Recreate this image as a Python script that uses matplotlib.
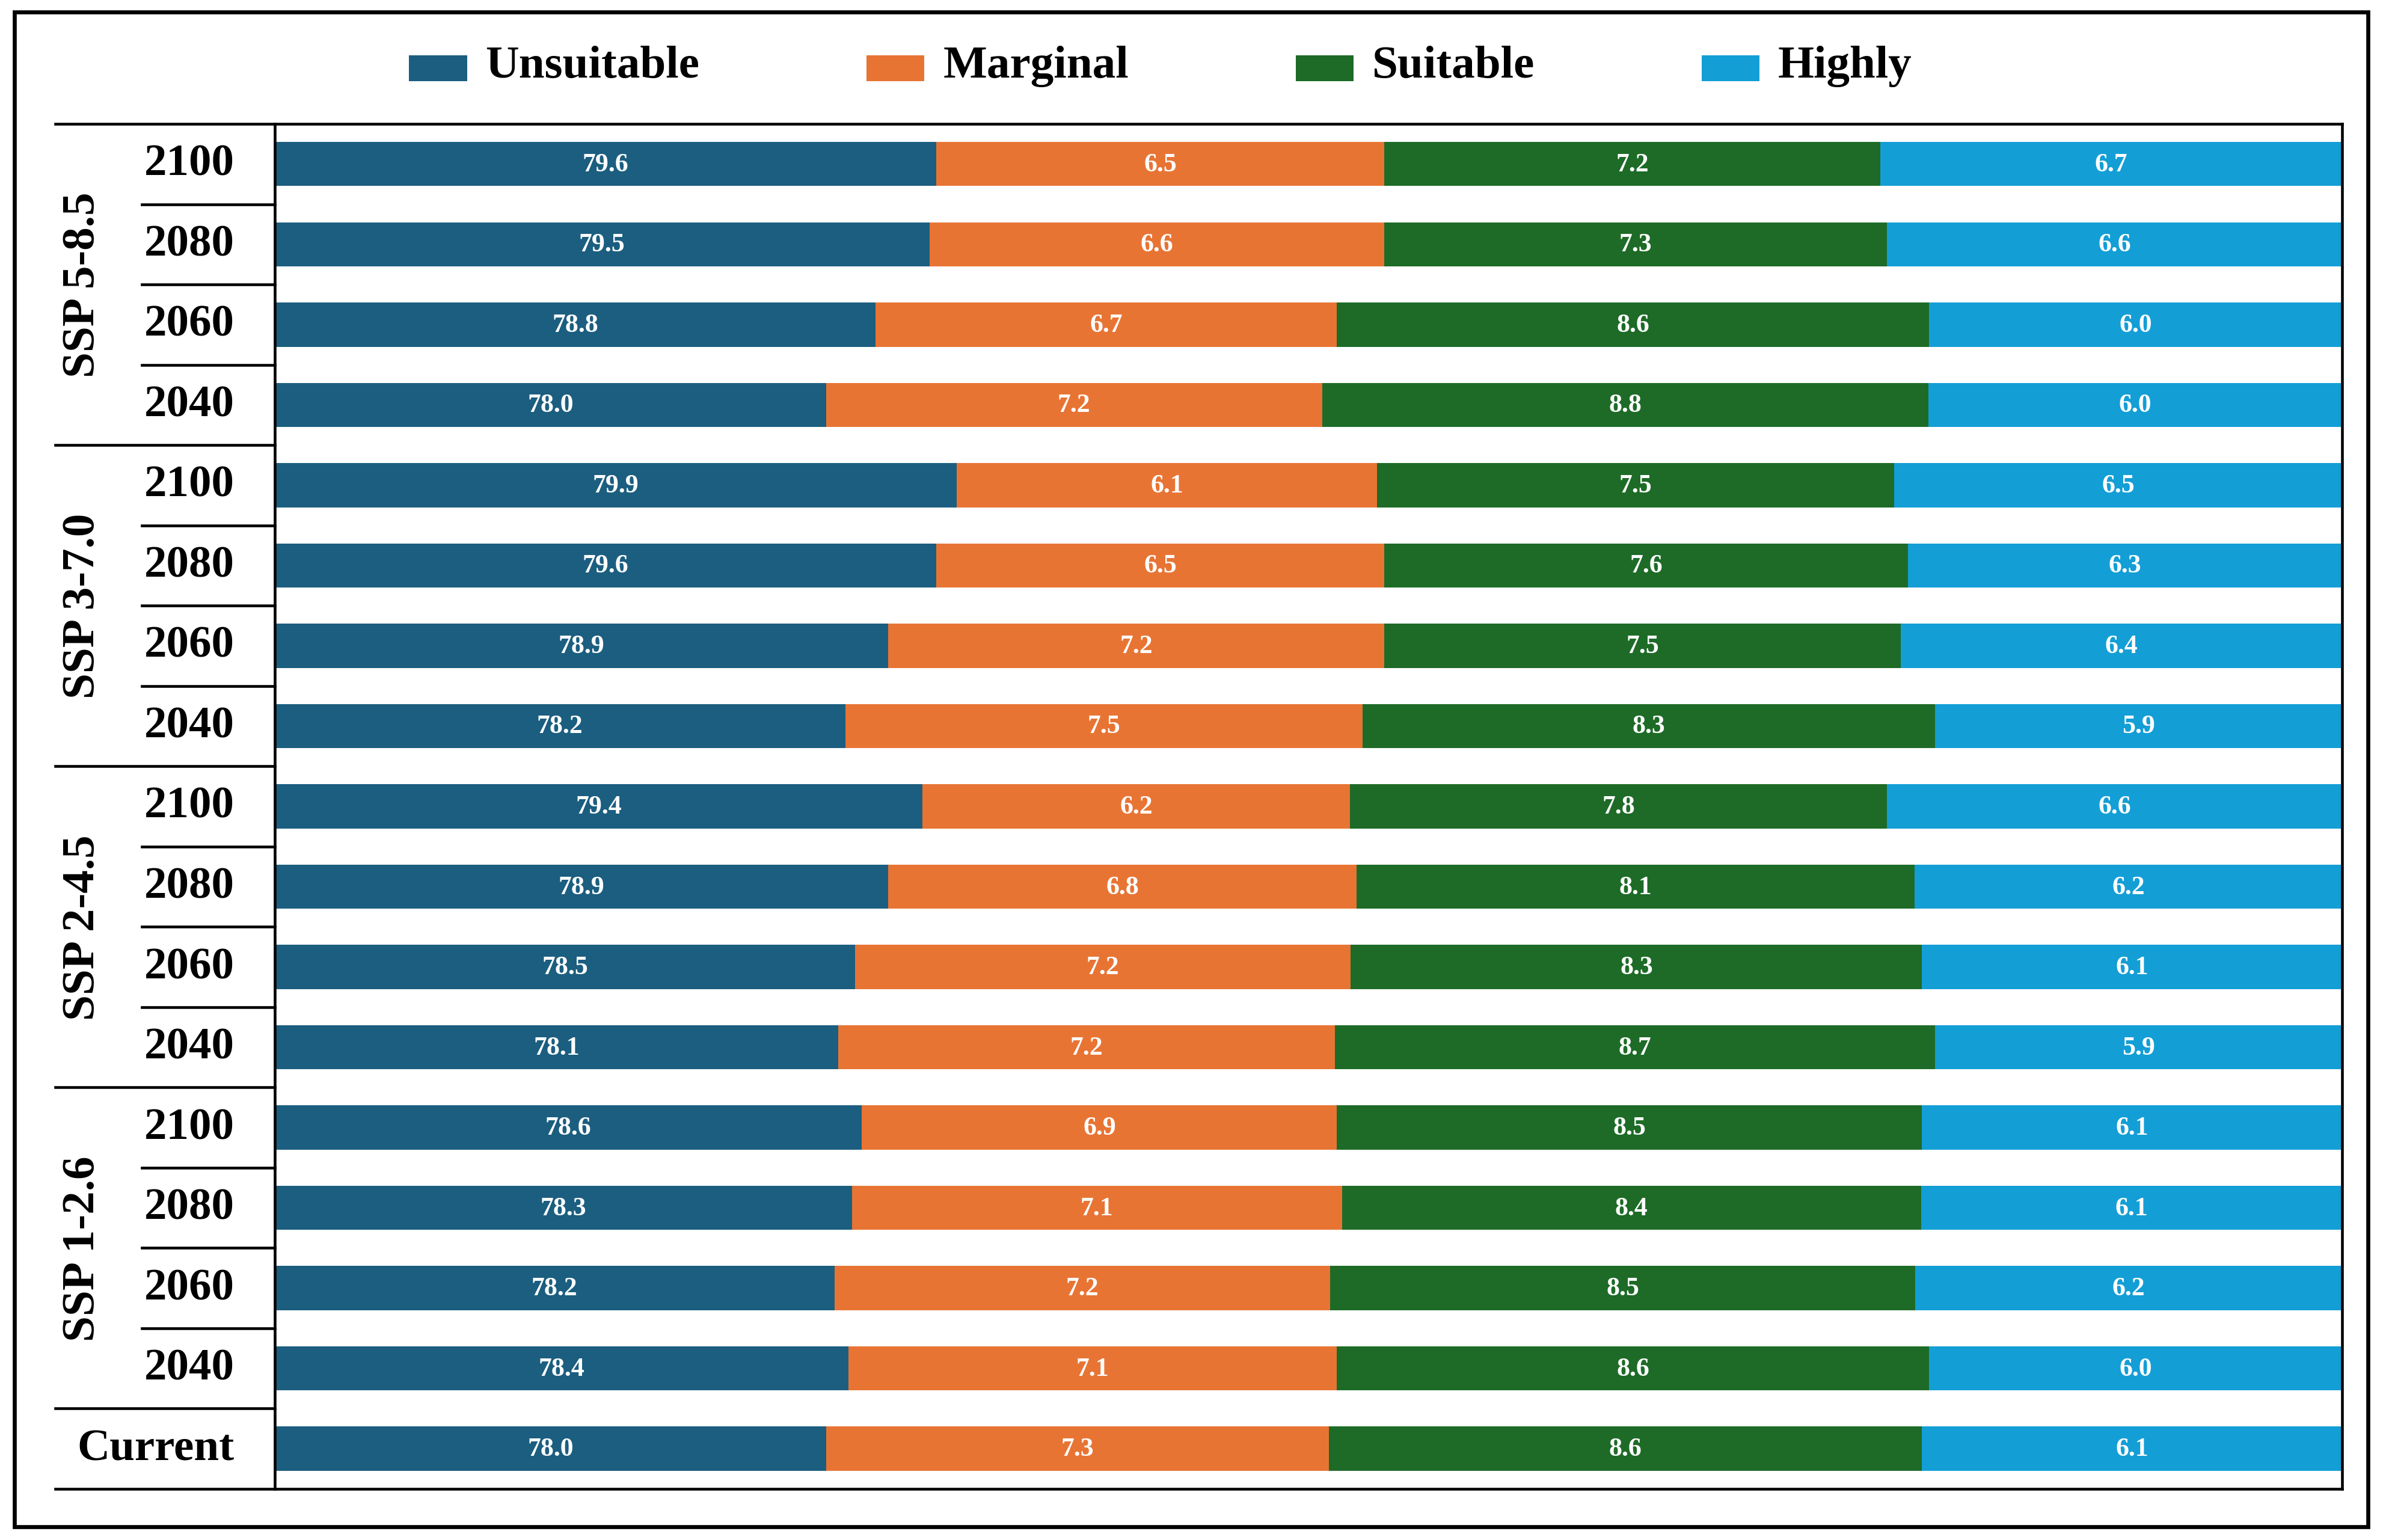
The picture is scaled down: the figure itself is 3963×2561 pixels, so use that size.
import matplotlib
matplotlib.use("Agg")
import matplotlib.pyplot as plt
import numpy as np
from matplotlib.patches import Rectangle
from matplotlib.legend_handler import HandlerPatch

plt.rcParams["font.family"] = ["Liberation Serif", "DejaVu Serif"]
plt.rcParams["font.weight"] = "bold"

# data, top row first
categories = ["Unsuitable", "Marginal", "Suitable", "Highly"]
colors = ["#1b5e80", "#e87434", "#1d6b27", "#139ed6"]

groups = ["SSP 5-8.5", "SSP 3-7.0", "SSP 2-4.5", "SSP 1-2.6"]
years = ["2100", "2080", "2060", "2040"]

unsuitable = [79.6, 79.5, 78.8, 78.0,
              79.9, 79.6, 78.9, 78.2,
              79.4, 78.9, 78.5, 78.1,
              78.6, 78.3, 78.2, 78.4,
              78.0]
marginal = [6.5, 6.6, 6.7, 7.2,
            6.1, 6.5, 7.2, 7.5,
            6.2, 6.8, 7.2, 7.2,
            6.9, 7.1, 7.2, 7.1,
            7.3]
suitable = [7.2, 7.3, 8.6, 8.8,
            7.5, 7.6, 7.5, 8.3,
            7.8, 8.1, 8.3, 8.7,
            8.5, 8.4, 8.5, 8.6,
            8.6]
highly = [6.7, 6.6, 6.0, 6.0,
          6.5, 6.3, 6.4, 5.9,
          6.6, 6.2, 6.1, 5.9,
          6.1, 6.1, 6.2, 6.0,
          6.1]

row_labels = years * len(groups) + ["Current"]
x_min, x_max = 70, 100

fig = plt.figure(figsize=(13.21, 8.54), dpi=300)
ax = fig.add_axes([0.1153, 0.0332, 0.9828 - 0.1153, 0.9192 - 0.0332])

series = np.array([unsuitable, marginal, suitable, highly])
# rounded values do not always add to 100: scale each row so the bar is full
shares = series / series.sum(axis=0) * 100

y = np.arange(len(row_labels))
left = np.zeros(len(y))
handles = []
for name, vals, widths, col in zip(categories, series, shares, colors):
    bars = ax.barh(y, widths, left=left, height=0.55, color=col, label=name)
    handles.append(bars.patches[0])
    for yi, l, w, v in zip(y, left, widths, vals):
        start = max(l, x_min)
        ax.text((start + l + w) / 2, yi, f"{v:.1f}", ha="center", va="center",
                color="white", fontsize=10.5, fontweight="bold")
    left = left + widths

ax.set_xlim(x_min, x_max)
ax.set_ylim(len(y) - 0.5, -0.5)
ax.set_xticks([])
ax.set_yticks([])
for sp in ax.spines.values():
    sp.set_linewidth(1.1)

# left-hand table: year labels, group labels and separator lines
tr = ax.get_yaxis_transform()
for yi, lab in zip(y, row_labels):
    ax.text(-0.0195, yi, lab, transform=tr, ha="right", va="center",
            fontsize=18, fontweight="bold")

x_long, x_short = -0.1062, -0.0643
n_years = len(years)
for gi, g in enumerate(groups):
    top = gi * n_years - 0.5
    ax.text(-0.0928, top + n_years / 2, g, transform=tr, rotation=90,
            ha="center", va="center", fontsize=18.5, fontweight="bold")
    ax.plot([x_long, 0], [top, top], transform=tr, color="black", lw=1.1, clip_on=False)
    for k in range(1, n_years):
        ax.plot([x_short, 0], [top + k, top + k], transform=tr, color="black",
                lw=1.1, clip_on=False)
last = len(groups) * n_years - 0.5
ax.plot([x_long, 0], [last, last], transform=tr, color="black", lw=1.1, clip_on=False)
ax.plot([x_long, 0], [len(y) - 0.5, len(y) - 0.5], transform=tr, color="black",
        lw=1.1, clip_on=False)


def low_patch(legend, orig_handle, xdescent, ydescent, width, height, fontsize):
    # legend swatch sits a bit below the text centre, like the original
    return Rectangle((-xdescent, -ydescent - 0.3 * height), width, height)


fig.legend(handles=handles, labels=categories, loc="center", bbox_to_anchor=(0.487, 0.957),
           ncol=4, frameon=False, handlelength=1.25, handleheight=0.5, handletextpad=0.4,
           columnspacing=3.6, prop={"size": 18.5, "weight": "bold"},
           handler_map={Rectangle: HandlerPatch(patch_func=low_patch)})

# outer frame
fig.patches.append(Rectangle((0.006, 0.0086), 0.9877, 0.9832, transform=fig.transFigure,
                             fill=False, edgecolor="black", linewidth=1.6))

fig.savefig("out.png", dpi=300)
